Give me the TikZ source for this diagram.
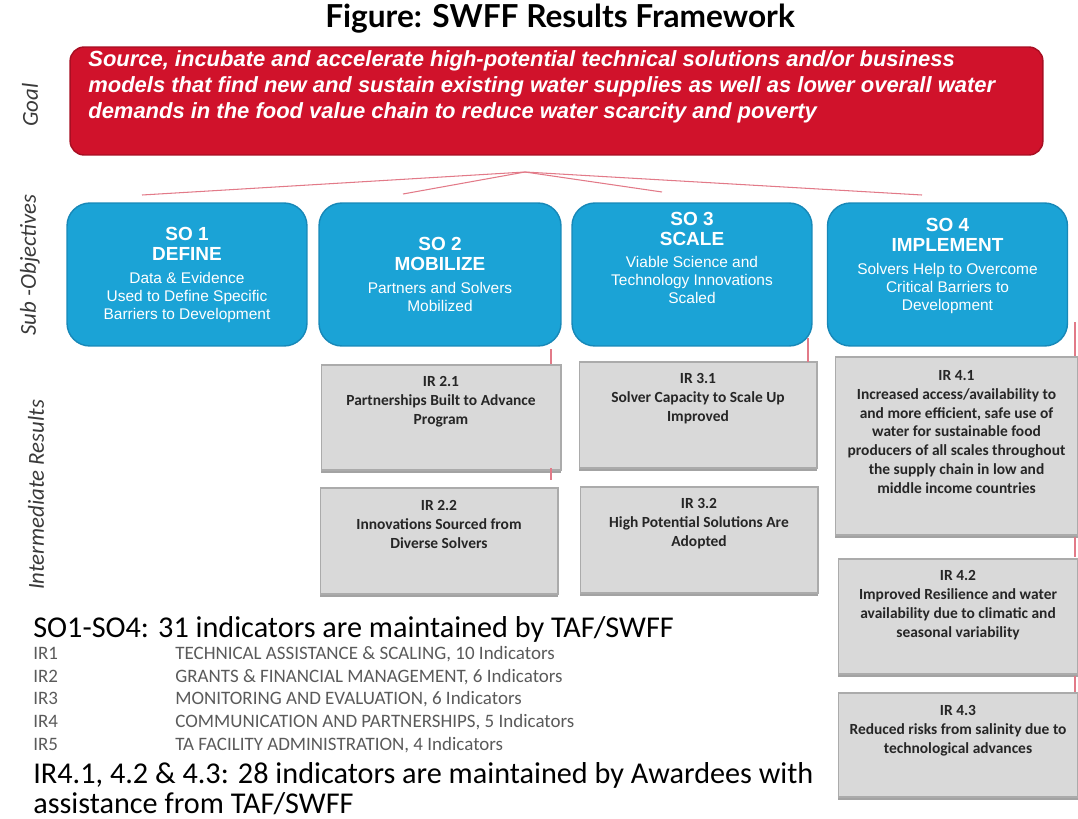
\documentclass[tikz,border=0pt]{standalone}
\usepackage{fontspec}
\setmainfont{Carlito}
\newfontfamily\arialfont{Liberation Sans}
\newfontfamily\titlefont{Lato}
\usepackage{xcolor}
\usetikzlibrary{positioning, shadows}

\definecolor{goalred}{HTML}{D0122B}
\definecolor{goalrim}{HTML}{A80E22}
\definecolor{soblue}{HTML}{1BA3D6}
\definecolor{sorim}{HTML}{1788B8}
\definecolor{irgray}{HTML}{D9D9D9}
\definecolor{irrim}{HTML}{ABABAB}
\definecolor{linkred}{HTML}{E27A88}
\definecolor{sidegray}{HTML}{3A3A3A}
\definecolor{listgray}{HTML}{5A5A5A}

\newcommand{\sohd}{\arialfont\bfseries\fontsize{10.8}{12}\selectfont}
\newcommand{\sobd}{\arialfont\fontsize{8.8}{10.3}\selectfont}

\begin{document}
\begin{tikzpicture}[x=0.02cm, y=-0.02cm,
  goalbox/.style={draw=goalrim, fill=goalred, rounded corners=8pt, line width=0.8pt,
    minimum width=19.46cm, minimum height=2.16cm},
  sobox/.style={draw=sorim, fill=soblue, rounded corners=13pt, line width=0.8pt,
    minimum width=4.8cm, minimum height=2.86cm},
  irbox/.style={draw=irrim, fill=irgray, line width=0.6pt,
    drop shadow={shadow xshift=0pt, shadow yshift=-1.6pt, fill=black!40, opacity=0.9}},
  sotext/.style={text=white, align=center, inner sep=0pt, font=\sobd},
  irtext/.style={text=black!85, align=center, inner sep=0pt,
    font=\bfseries\fontsize{8.8}{10.8}\selectfont},
  side/.style={rotate=90, text=sidegray, font=\itshape\fontsize{13}{15}\selectfont},
  link/.style={linkred, line width=0.6pt},
  big/.style={anchor=base west, inner sep=0pt, font=\fontsize{17.2}{20}\selectfont},
  listrow/.style={anchor=base west, inner sep=0pt, text=listgray, font=\fontsize{10.8}{13}\selectfont},
]
\useasboundingbox (0,0) rectangle (1078,818);

\node[font=\titlefont\bfseries\fontsize{18}{20}\selectfont] (title) at (560,19)
  {Figure: SWFF Results Framework};

% goal
\node[goalbox] (goal) at (556.5,101) {};
\node[anchor=north west, inner sep=0pt, text=white, align=left,
  font=\arialfont\bfseries\itshape\fontsize{12.5}{15}\selectfont] (goaltext) at (88,50)
  {Source, incubate and accelerate high-potential technical solutions and/or business\\
   models that find new and sustain existing water supplies as well as lower overall water\\
   demands in the food value chain to reduce water scarcity and poverty};

% row labels
\node[side] (lgoal) at (30,105) {Goal};
\node[side] (lsub) at (30,265) {Sub -Objectives};
\node[side] (lir) at (36,495) {Intermediate Results};

% sub-objectives
\node[sobox] (so1) at (187,274.5) {};
\node[sobox, minimum width=4.84cm] (so2) at (440,274.5) {};
\node[sobox] (so3) at (692,274.5) {};
\node[sobox] (so4) at (947.5,274.5) {};

\node[sotext] (so1t) at (187,275) {\sohd SO 1\\[1pt] \sohd DEFINE\\[2.5pt]
  Data \& Evidence\\ Used to Define Specific\\ Barriers to Development};
\node[sotext] (so2t) at (440,274.5) {\sohd SO 2\\[1pt] \sohd MOBILIZE\\[2.5pt]
  Partners and Solvers\\ Mobilized};
\node[sotext] (so3t) at (692,258) {\sohd SO 3\\[1pt] \sohd SCALE\\[2.5pt]
  Viable Science and\\ Technology Innovations\\ Scaled};
\node[sotext] (so4t) at (947.5,266) {\sohd SO 4\\[1pt] \sohd IMPLEMENT\\[2.5pt]
  Solvers Help to Overcome\\ Critical Barriers to\\ Development};

% goal to sub-objectives
\coordinate (hub) at (525,172);
\coordinate (to1) at (142,195);
\coordinate (to2) at (403,194);
\coordinate (to3) at (662,192);
\coordinate (to4) at (922,195);
\foreach \i in {1,...,4}
  \draw[link] (hub) -- (to\i);

% intermediate results
\node[irbox, minimum width=4.8cm, minimum height=2.1cm] (ir21) at (441,417.5) {};
\node[irbox, minimum width=4.76cm, minimum height=2.12cm] (ir22) at (439,541) {};
\node[irbox, minimum width=4.76cm, minimum height=2.12cm] (ir31) at (698,415) {};
\node[irbox, minimum width=4.76cm, minimum height=2.12cm] (ir32) at (699,540) {};
\node[irbox, minimum width=4.86cm, minimum height=3.56cm] (ir41) at (956.5,446) {};
\node[irbox, minimum width=4.8cm, minimum height=2.3cm] (ir42) at (958,616.5) {};
\node[irbox, minimum width=4.8cm, minimum height=2.08cm] (ir43) at (958,745) {};

\node[irtext, below=6.5pt of ir21.north] (ir21t) {IR 2.1\\Partnerships Built to Advance\\Program};
\node[irtext, below=7pt of ir22.north] (ir22t) {IR 2.2\\Innovations Sourced from\\Diverse Solvers};
\node[irtext, below=6.5pt of ir31.north] (ir31t) {IR 3.1\\Solver Capacity to Scale Up\\Improved};
\node[irtext, below=6.5pt of ir32.north] (ir32t) {IR 3.2\\High Potential Solutions Are\\Adopted};
\node[irtext, below=7.5pt of ir41.north] (ir41t) {IR 4.1\\Increased access/availability to\\
  and more efficient, safe use of\\water for sustainable food\\
  producers of all scales throughout\\the supply chain in low and\\middle income countries};
\node[irtext, below=6.5pt of ir42.north] (ir42t) {IR 4.2\\Improved Resilience and water\\
  availability due to climatic and\\seasonal variability};
\node[irtext, below=7pt of ir43.north] (ir43t) {IR 4.3\\Reduced risks from salinity due to\\technological advances};

% small ties between the columns
\coordinate (t1a) at (551,349);
\coordinate (t1b) at (551,364);
\coordinate (t2a) at (551,468);
\coordinate (t2b) at (551,480);
\coordinate (t3a) at (808,338);
\coordinate (t3b) at (808,362);
\coordinate (t4a) at (1075,322);
\coordinate (t4b) at (1075,356);
\coordinate (t5a) at (1075,537);
\coordinate (t5b) at (1075,557);
\coordinate (t6a) at (1075,676);
\coordinate (t6b) at (1075,692);
\foreach \i in {1,...,6}
  \draw[link] (t\i a) -- (t\i b);

% indicator summary
\node[big] (sumso) at (33,637) {SO1-SO4: 31 indicators are maintained by TAF/SWFF};
\foreach \k/\yy/\txt in {1/659/{TECHNICAL ASSISTANCE \& SCALING, 10 Indicators},
                          2/682/{GRANTS \& FINANCIAL MANAGEMENT, 6 Indicators},
                          3/704/{MONITORING AND EVALUATION, 6 Indicators},
                          4/727/{COMMUNICATION AND PARTNERSHIPS, 5 Indicators},
                          5/750/{TA FACILITY ADMINISTRATION, 4 Indicators}}{
  \node[listrow] (irl\k) at (33,\yy) {IR\k};
  \node[listrow] (ird\k) at (175,\yy) {\txt};
}
\node[big] (sumir) at (33,783) {IR4.1, 4.2 \& 4.3: 28 indicators are maintained by Awardees with};
\node[big] (sumir2) at (33,813) {assistance from TAF/SWFF};
\end{tikzpicture}
\end{document}
